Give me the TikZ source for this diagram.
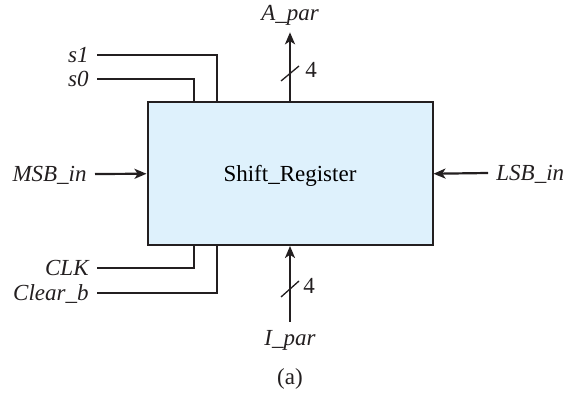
\documentclass[tikz,border=0pt]{standalone}
\usepackage{fontspec}
\setmainfont{Liberation Serif}
\usepackage{xcolor}
\usepackage{tikz}
\usetikzlibrary{arrows.meta,positioning,calc}
\definecolor{regfill}{RGB}{222,241,252}
\definecolor{wire}{RGB}{35,31,32}

\begin{document}
\begin{tikzpicture}[x=0.5pt, y=-0.5pt,
    regbox/.style={draw=wire, fill=regfill, line width=1pt, minimum width=142.5pt, minimum height=71.25pt, inner sep=0pt, text height=7.6pt, text depth=0pt, font=\fontsize{11.5}{13}\selectfont},
    sig/.style={font=\fontsize{11.5}{13}\selectfont\itshape, inner sep=4pt, text height=7.6pt, text depth=0pt, text=wire},
    ctl/.style={draw=wire, line width=0.65pt},
    bus/.style={draw=wire, line width=1.1pt, -{Stealth[length=6pt,width=5pt,inset=1.6pt]}},
    buswidth/.style={font=\fontsize{11.5}{13}\selectfont, inner sep=0pt, text=wire},
    caption/.style={font=\fontsize{11.5}{13}\selectfont, text=wire}
]
\useasboundingbox (0,0) rectangle (571,394);

\node[regbox] (reg) at (290,173.75) {Shift\_Register};

\node[sig, anchor=east] (s1) at (97,55) {s1};
\node[sig, anchor=east] (s0) at (97,79) {s0};
\node[sig, anchor=east] (clk) at (97,268) {CLK};
\node[sig, anchor=east] (clr) at (97,293) {Clear\_b};
\node[sig, anchor=east] (msb) at (95,174) {MSB\_in};
\node[sig, anchor=west] (lsb) at (488,173) {LSB\_in};
\node[sig] (apar) at (290,13.3) {A\_par};
\node[sig] (ipar) at (290,338) {I\_par};

\draw[ctl] (s1.east) -| ($(reg.north west)+(70.5,0)$);
\draw[ctl] (s0.east) -| ($(reg.north west)+(47.5,0)$);
\draw[ctl] (clk.east) -| ($(reg.south west)+(47.5,0)$);
\draw[ctl] (clr.east) -| ($(reg.south west)+(70.5,0)$);

\draw[bus] (msb.east) -- (reg.west);
\draw[bus] (lsb.west) -- (reg.east);
\draw[bus, shorten >=1.5pt] (reg.north) -- (apar.south);
\draw[bus] (ipar.north) -- (reg.south);

\draw[ctl] (281,81) -- (299,66);
\node[buswidth] (wa) at (311,70) {4};
\draw[ctl] (281,297) -- (299,281);
\node[buswidth] (wi) at (309,286) {4};

\node[caption] (cap) at (290,379) {(a)};
\end{tikzpicture}
\end{document}
